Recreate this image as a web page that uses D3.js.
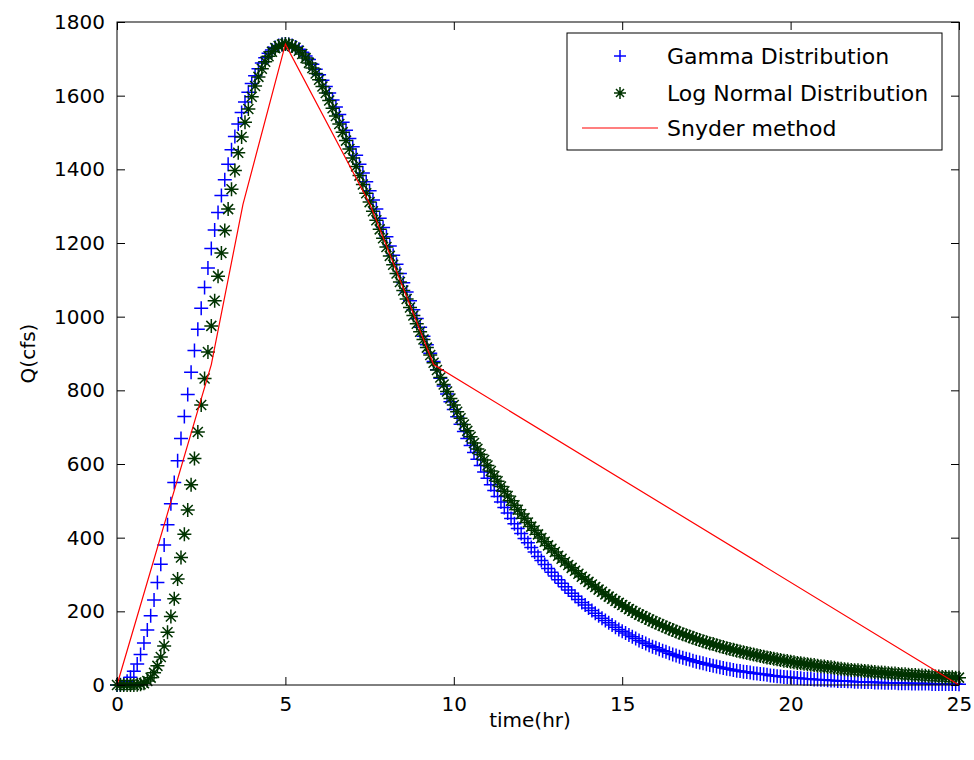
<!DOCTYPE html>
<html>
<head>
<meta charset="utf-8">
<script src="https://cdn.jsdelivr.net/npm/d3@7/dist/d3.min.js"></script>
<style>
  body { margin: 0; background: #fff; }
  text { font-family: "DejaVu Sans", Verdana, sans-serif; fill: #000; }
</style>
</head>
<body>
<div id="chart"></div>
<script>
// time axis (hr), sampled every 0.1 hr
const timeHr = [
  0,0.1,0.2,0.3,0.4,0.5,0.6,0.7,0.8,0.9,1,1.1,1.2,1.3,1.4,1.5,1.6,1.7,1.8,1.9,
  2,2.1,2.2,2.3,2.4,2.5,2.6,2.7,2.8,2.9,3,3.1,3.2,3.3,3.4,3.5,3.6,3.7,3.8,3.9,
  4,4.1,4.2,4.3,4.4,4.5,4.6,4.7,4.8,4.9,5,5.1,5.2,5.3,5.4,5.5,5.6,5.7,5.8,5.9,
  6,6.1,6.2,6.3,6.4,6.5,6.6,6.7,6.8,6.9,7,7.1,7.2,7.3,7.4,7.5,7.6,7.7,7.8,7.9,
  8,8.1,8.2,8.3,8.4,8.5,8.6,8.7,8.8,8.9,9,9.1,9.2,9.3,9.4,9.5,9.6,9.7,9.8,9.9,
  10,10.1,10.2,10.3,10.4,10.5,10.6,10.7,10.8,10.9,11,11.1,11.2,11.3,11.4,11.5,11.6,11.7,11.8,11.9,
  12,12.1,12.2,12.3,12.4,12.5,12.6,12.7,12.8,12.9,13,13.1,13.2,13.3,13.4,13.5,13.6,13.7,13.8,13.9,
  14,14.1,14.2,14.3,14.4,14.5,14.6,14.7,14.8,14.9,15,15.1,15.2,15.3,15.4,15.5,15.6,15.7,15.8,15.9,
  16,16.1,16.2,16.3,16.4,16.5,16.6,16.7,16.8,16.9,17,17.1,17.2,17.3,17.4,17.5,17.6,17.7,17.8,17.9,
  18,18.1,18.2,18.3,18.4,18.5,18.6,18.7,18.8,18.9,19,19.1,19.2,19.3,19.4,19.5,19.6,19.7,19.8,19.9,
  20,20.1,20.2,20.3,20.4,20.5,20.6,20.7,20.8,20.9,21,21.1,21.2,21.3,21.4,21.5,21.6,21.7,21.8,21.9,
  22,22.1,22.2,22.3,22.4,22.5,22.6,22.7,22.8,22.9,23,23.1,23.2,23.3,23.4,23.5,23.6,23.7,23.8,23.9,
  24,24.1,24.2,24.3,24.4,24.5,24.6,24.7,24.8,24.9,25
];

// Q (cfs)
const gammaQ = [
  0,1,3,10,21,37,57,83,114,149,188,231,278,328,380,435,492,550,609,669,
  729,789,849,908,966,1023,1079,1132,1185,1235,1283,1329,1372,1414,1453,1489,1523,1554,1583,1609,
  1633,1654,1673,1689,1703,1715,1724,1731,1736,1739,1740,1739,1736,1732,1726,1718,1708,1698,1685,1672,
  1657,1642,1625,1607,1588,1569,1549,1528,1506,1484,1461,1438,1414,1390,1366,1342,1317,1292,1267,1242,
  1217,1192,1167,1142,1117,1092,1067,1043,1019,995,971,947,924,901,878,856,833,812,790,769,
  748,728,708,688,669,650,631,613,596,578,561,544,528,512,497,482,467,452,438,425,
  411,398,386,373,361,349,338,327,316,306,296,286,276,267,258,249,241,232,224,217,
  209,202,195,188,181,175,169,163,157,151,146,141,136,131,126,121,117,113,108,104,
  101,97,93,90,86,83,80,77,74,71,69,66,63,61,59,56,54,52,50,48,
  46,44,43,41,39,38,36,35,34,32,31,30,29,28,26,25,24,23,22,21,
  21,20,19,18,17,17,16,15,15,14,14,13,12,12,11,11,11,10,10,9,
  9,9,8,8,8,7,7,7,6,6,6,6,5,5,5,5,4,4,4,4,
  4,4,3,3,3,3,3,3,3,3,2
];

// Q (cfs)
const logNormalQ = [
  0,0,0,0,0,0,1,2,5,11,20,33,52,76,106,143,186,234,288,346,
  409,475,544,615,687,760,832,904,975,1043,1110,1173,1234,1292,1346,1397,1445,1488,1528,1564,
  1597,1626,1651,1673,1692,1707,1719,1729,1735,1739,1740,1739,1735,1730,1722,1713,1702,1689,1675,1660,
  1643,1625,1607,1587,1566,1545,1523,1501,1478,1455,1431,1408,1383,1359,1335,1311,1286,1262,1237,1213,
  1189,1165,1141,1117,1094,1071,1048,1025,1003,981,959,938,916,896,875,855,835,816,797,778,
  760,742,724,707,690,674,657,641,626,611,596,581,567,553,539,526,513,500,488,476,
  464,453,441,430,420,409,399,389,379,370,361,351,343,334,326,318,310,302,294,287,
  280,273,266,259,253,246,240,234,228,223,217,212,206,201,196,191,187,182,178,173,
  169,165,161,157,153,149,145,142,138,135,132,128,125,122,119,116,113,111,108,105,
  103,100,98,96,93,91,89,87,85,83,81,79,77,75,73,71,70,68,66,65,
  63,62,60,59,58,56,55,54,52,51,50,49,48,47,45,44,43,42,41,40,
  40,39,38,37,36,35,34,34,33,32,31,31,30,29,29,28,27,27,26,26,
  25,24,24,23,23,22,22,21,21,20,20
];

// Snyder synthetic hydrograph vertices
const snyderTime = [0, 2.8, 3.74, 5, 7.51, 9.4, 25];
const snyderQ = [0, 870, 1305, 1740, 1305, 870, 0];

const xTicks = [0, 5, 10, 15, 20, 25];
const yTicks = [0, 200, 400, 600, 800, 1000, 1200, 1400, 1600, 1800];
const seriesNames = ["Gamma Distribution", "Log Normal Distribution", "Snyder method"];

//DIMENSIONS
const width = 974,
  height = 760,
  margin = { top: 22, right: 15, bottom: 75, left: 117 };
const plotW = width - margin.left - margin.right,
  plotH = height - margin.top - margin.bottom;

const fontSize = "20px";
const blue = "#0000ff",
  green = "#003300",
  red = "#ff0000";

const svg = d3
  .select("#chart")
  .append("svg")
  .attr("width", width)
  .attr("height", height);

svg.append("rect").attr("width", width).attr("height", height).attr("fill", "#fff");

const g = svg.append("g").attr("transform", `translate(${margin.left},${margin.top})`);

//SCALES
const x = d3.scaleLinear().domain([0, 25]).range([0, plotW]);
const y = d3.scaleLinear().domain([0, 1800]).range([plotH, 0]);

// marker shapes ('+' and '*')
const plusPath = "M-7,0H7M0,-7V7";
const starPath = "M-7,0H7M0,-7V7M-5,-5L5,5M-5,5L5,-5";

//GAMMA MARKERS
g.append("g")
  .selectAll("path")
  .data(timeHr.map((t, i) => [t, gammaQ[i]]))
  .join("path")
  .attr("transform", d => `translate(${x(d[0])},${y(d[1])})`)
  .attr("d", plusPath)
  .attr("fill", "none")
  .attr("stroke", blue)
  .attr("stroke-width", 1.5);

//LOG NORMAL MARKERS
g.append("g")
  .selectAll("path")
  .data(timeHr.map((t, i) => [t, logNormalQ[i]]))
  .join("path")
  .attr("transform", d => `translate(${x(d[0])},${y(d[1])})`)
  .attr("d", starPath)
  .attr("fill", "none")
  .attr("stroke", green)
  .attr("stroke-width", 1.5);

//SNYDER LINE
const line = d3
  .line()
  .x(d => x(d[0]))
  .y(d => y(d[1]));

g.append("path")
  .datum(snyderTime.map((t, i) => [t, snyderQ[i]]))
  .attr("d", line)
  .attr("fill", "none")
  .attr("stroke", red)
  .attr("stroke-width", 1.2);

//AXES (matlab style: ticks inward, mirrored, box)
const axisStyle = sel => {
  sel.select(".domain").remove();
  sel.selectAll("text")
    .style("font-size", fontSize)
    .style("font-family", "'DejaVu Sans', Verdana, sans-serif")
    .attr("fill", "#000");
  sel.selectAll("line").attr("stroke", "#000");
};

g.append("g")
  .attr("transform", `translate(0,${plotH})`)
  .call(d3.axisBottom(x).tickValues(xTicks).tickSize(-8).tickPadding(12).tickFormat(d3.format("d")))
  .call(axisStyle);

g.append("g")
  .call(d3.axisTop(x).tickValues(xTicks).tickSize(-8).tickFormat(""))
  .call(axisStyle);

g.append("g")
  .call(d3.axisLeft(y).tickValues(yTicks).tickSize(-8).tickPadding(12).tickFormat(d3.format("d")))
  .call(axisStyle);

g.append("g")
  .attr("transform", `translate(${plotW},0)`)
  .call(d3.axisRight(y).tickValues(yTicks).tickSize(-8).tickFormat(""))
  .call(axisStyle);

g.append("rect")
  .attr("width", plotW)
  .attr("height", plotH)
  .attr("fill", "none")
  .attr("stroke", "#000")
  .attr("stroke-width", 1);

//AXIS LABELS
svg.append("text")
  .attr("x", margin.left + plotW / 2 - 8)
  .attr("y", 727)
  .attr("text-anchor", "middle")
  .style("font-size", fontSize)
  .text("time(hr)");

svg.append("text")
  .attr("transform", `translate(35,${margin.top + plotH / 2}) rotate(-90)`)
  .attr("text-anchor", "middle")
  .style("font-size", fontSize)
  .text("Q(cfs)");

//LEGEND
const legend = svg.append("g").attr("transform", "translate(567,33)");

legend.append("rect")
  .attr("width", 375)
  .attr("height", 117)
  .attr("fill", "#fff")
  .attr("stroke", "#000")
  .attr("stroke-width", 1);

const legendY = [23, 60, 95];

legend.append("path")
  .attr("transform", `translate(53,${legendY[0]})`)
  .attr("d", "M-6,0H6M0,-6V6")
  .attr("stroke", blue)
  .attr("stroke-width", 1.5);

legend.append("path")
  .attr("transform", `translate(53,${legendY[1]})`)
  .attr("d", "M-6,0H6M0,-6V6M-4,-4L4,4M-4,4L4,-4")
  .attr("stroke", green)
  .attr("stroke-width", 1.5);

legend.append("line")
  .attr("x1", 15)
  .attr("x2", 91)
  .attr("y1", legendY[2])
  .attr("y2", legendY[2])
  .attr("stroke", red)
  .attr("stroke-width", 1.2);

legend.selectAll("text.legend-label")
  .data(seriesNames)
  .join("text")
  .attr("class", "legend-label")
  .attr("x", 100)
  .attr("y", (d, i) => legendY[i])
  .attr("dy", "0.35em")
  .style("font-size", "22px")
  .text(d => d);
</script>
</body>
</html>
